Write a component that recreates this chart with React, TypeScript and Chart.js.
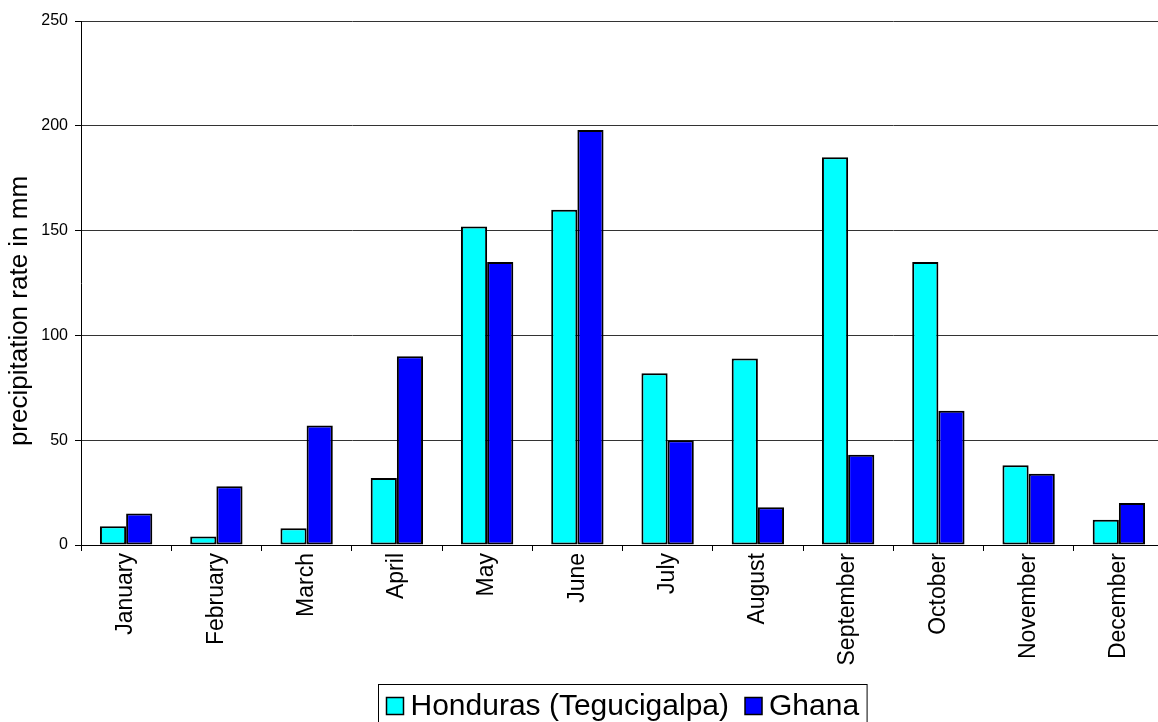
import React, { useEffect, useRef } from "react";
import { Chart, registerables } from "chart.js";

Chart.register(...registerables);

const months = [
  "January", "February", "March", "April", "May", "June",
  "July", "August", "September", "October", "November", "December",
];
const hondurasLabel = "Honduras (Tegucigalpa)";
const ghanaLabel = "Ghana";
const hondurasValues = [9, 4, 8, 32, 152, 160, 82, 89, 185, 135, 38, 12];
const ghanaValues = [15, 28, 57, 90, 135, 198, 50, 18, 43, 64, 34, 20];
const yTitle = "precipitation rate in mm";
const yMin = 0;
const yMax = 250;
const yStep = 50;

const FONT = "Arial, 'Liberation Sans', sans-serif";

const yAxisTitle = {
  id: "yAxisTitle",
  afterDraw(chart: any) {
    const ctx = chart.ctx as CanvasRenderingContext2D;
    ctx.save();
    ctx.font = `26px ${FONT}`;
    ctx.fillStyle = "#000";
    ctx.textAlign = "center";
    ctx.textBaseline = "middle";
    ctx.translate(20, 311);
    ctx.rotate(-Math.PI / 2);
    ctx.fillText(yTitle, 0, 0);
    ctx.restore();
  },
};

const boxedLegend = {
  id: "boxedLegend",
  afterDraw(chart: any) {
    const ctx = chart.ctx as CanvasRenderingContext2D;
    const area = chart.chartArea;
    const fontSize = 30;
    ctx.save();
    ctx.font = `${fontSize}px ${FONT}`;
    const sq = 17;
    const gapSqText = 7;
    const gapItems = 16;
    const padX = 8;
    const items = chart.data.datasets.map((d: any) => ({
      label: d.label as string,
      color: d.backgroundColor as string,
      w: ctx.measureText(d.label).width,
    }));
    let total = padX * 2;
    items.forEach((it: any, i: number) => {
      total += sq + gapSqText + it.w + (i > 0 ? gapItems : 0);
    });
    const cx = (area.left + area.right) / 2;
    const left = Math.round(cx - total / 2) + 0.5;
    const top = 684.5;
    const height = 44;
    ctx.fillStyle = "#fff";
    ctx.fillRect(left, top, total, height);
    ctx.strokeStyle = "#000";
    ctx.lineWidth = 1;
    ctx.strokeRect(left, top, total, height);
    let x = left + padX;
    const midY = 706;
    items.forEach((it: any, i: number) => {
      if (i > 0) x += gapItems;
      ctx.fillStyle = it.color;
      ctx.fillRect(x, midY - sq / 2, sq, sq);
      ctx.strokeStyle = "#000";
      ctx.lineWidth = 1.5;
      ctx.strokeRect(x, midY - sq / 2, sq, sq);
      x += sq + gapSqText;
      ctx.fillStyle = "#000";
      ctx.textBaseline = "middle";
      ctx.textAlign = "left";
      ctx.fillText(it.label, x, midY + 1);
      x += it.w;
    });
    ctx.restore();
  },
};

export default function App() {
  const ref = useRef<HTMLCanvasElement | null>(null);

  useEffect(() => {
    if (!ref.current) return;
    const chart = new Chart(ref.current, {
      type: "bar",
      data: {
        labels: months,
        datasets: [
          {
            label: hondurasLabel,
            data: hondurasValues,
            backgroundColor: "#00FFFF",
            borderColor: "#000000",
            borderWidth: 2,
            borderSkipped: false,
          },
          {
            label: ghanaLabel,
            data: ghanaValues,
            backgroundColor: "#0000FF",
            borderColor: "#000000",
            borderWidth: 2,
            borderSkipped: false,
          },
        ],
      },
      options: {
        responsive: false,
        animation: false,
        devicePixelRatio: 1,
        layout: { padding: { left: 0, top: 21, right: 6, bottom: 45 } },
        datasets: {
          bar: { categoryPercentage: 0.58, barPercentage: 1 },
        },
        plugins: {
          legend: { display: false },
          tooltip: { enabled: false },
        },
        scales: {
          x: {
            afterFit(scale: any) {
              scale.height = 140;
            },
            grid: {
              display: true,
              drawOnChartArea: false,
              drawTicks: true,
              tickLength: 6,
              offset: true,
              color: "#000",
              tickColor: "#000",
            },
            border: { display: true, color: "#000", width: 1 },
            ticks: {
              minRotation: 90,
              maxRotation: 90,
              autoSkip: false,
              color: "#000",
              padding: 2,
              font: { family: FONT, size: 23 },
            },
          },
          y: {
            min: yMin,
            max: yMax,
            afterFit(scale: any) {
              scale.width = 81;
            },
            grid: {
              color: "#333",
              tickColor: "#000",
              tickLength: 6,
              drawTicks: true,
            },
            border: { display: true, color: "#000", width: 1 },
            ticks: {
              stepSize: yStep,
              color: "#000",
              padding: 7,
              font: { family: FONT, size: 16 },
            },
            title: { display: false, text: yTitle },
          },
        },
      },
      plugins: [yAxisTitle, boxedLegend],
    });
    return () => chart.destroy();
  }, []);

  return (
    <div
      style={{
        position: "absolute",
        left: 0,
        top: 0,
        width: 1158,
        height: 722,
        overflow: "hidden",
        background: "#fff",
      }}
    >
      <canvas
        ref={ref}
        width={1170}
        height={730}
        style={{ display: "block", width: 1170, height: 730 }}
      />
    </div>
  );
}
